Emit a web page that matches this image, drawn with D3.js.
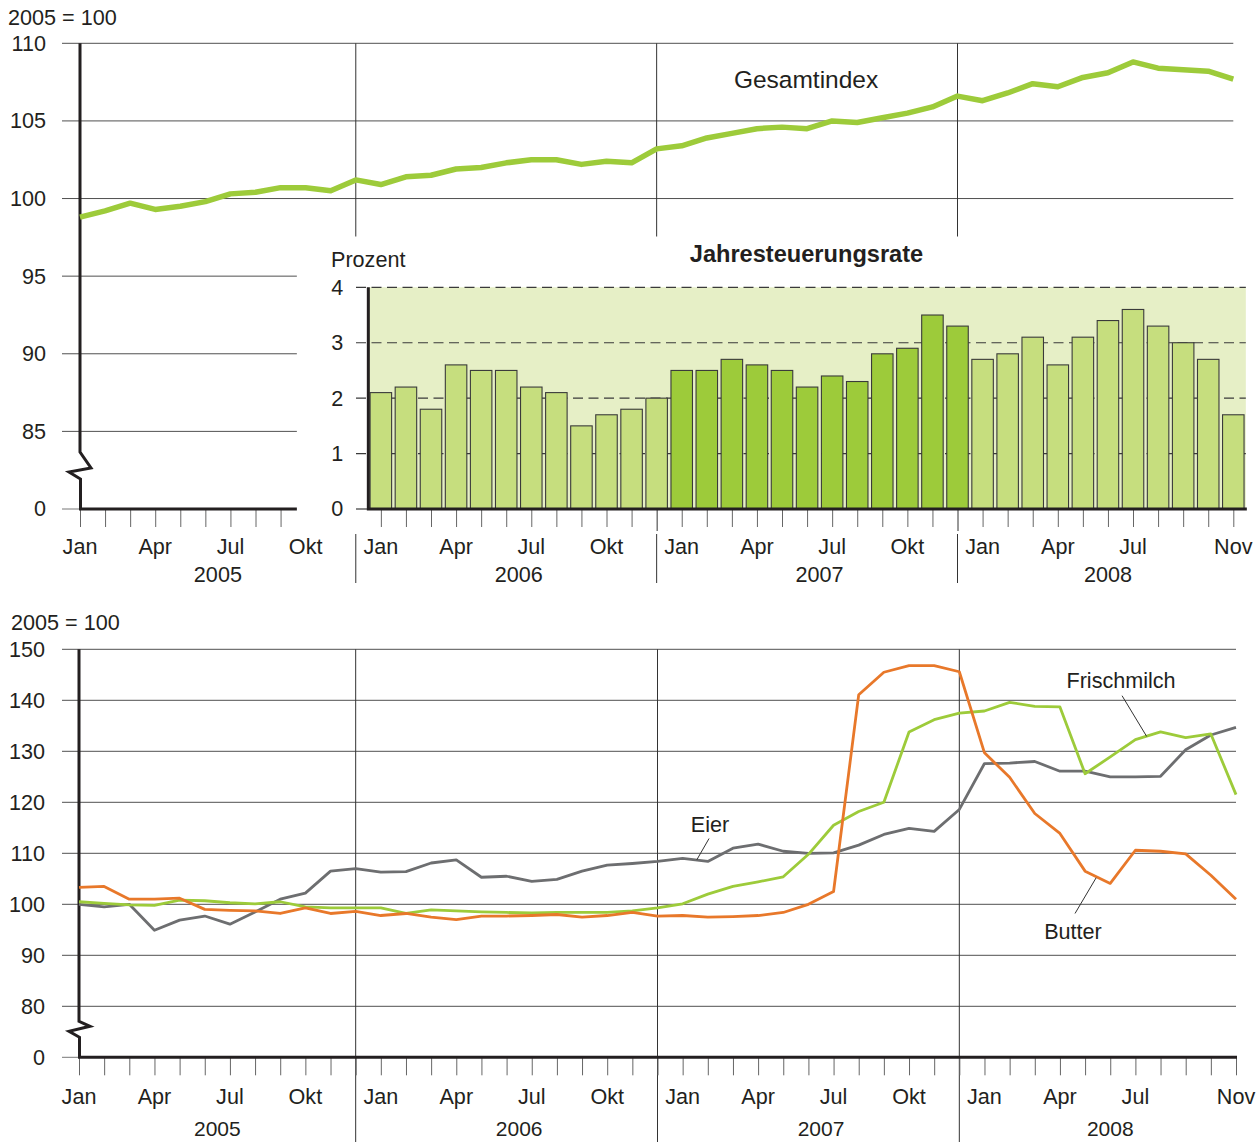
<!DOCTYPE html>
<html><head><meta charset="utf-8">
<script src="https://cdn.jsdelivr.net/npm/d3@7"></script>
<style>
body{margin:0;background:#fff;}
svg{display:block;font-family:"Liberation Sans",Arial,Helvetica,sans-serif;}
</style></head><body>
<svg id="chart" width="1259" height="1142"></svg>
<script>
// ---------------- DATA ----------------
const years = [2005, 2006, 2007, 2008];
const monthNames = ["Jan","Feb","Mär","Apr","Mai","Jun","Jul","Aug","Sep","Okt","Nov","Dez"];
const lastMonth2008 = "Nov";
// month categories Jan 2005 .. Nov 2008
const months = [];
years.forEach(y => monthNames.forEach((m, i) => {
  if (y === 2008 && i > monthNames.indexOf(lastMonth2008)) return;
  months.push(y + "-" + m);
}));

const labelledMonths = ["2005-Jan","2005-Apr","2005-Jul","2005-Okt",
                        "2006-Jan","2006-Apr","2006-Jul","2006-Okt",
                        "2007-Jan","2007-Apr","2007-Jul","2007-Okt",
                        "2008-Jan","2008-Apr","2008-Jul","2008-Nov"];
const yearSeparators = ["2005-Dez","2006-Dez","2007-Dez"];

// Gesamtindex (2005 = 100), Jan 2005 - Nov 2008
const gesamtindex = [
  98.8, 99.2, 99.7, 99.3, 99.5, 99.8, 100.3, 100.4, 100.7, 100.7, 100.5, 101.2,
  100.9, 101.4, 101.5, 101.9, 102.0, 102.3, 102.5, 102.5, 102.2, 102.4, 102.3, 103.2,
  103.4, 103.9, 104.2, 104.5, 104.6, 104.5, 105.0, 104.9, 105.2, 105.5, 105.9, 106.6,
  106.3, 106.8, 107.4, 107.2, 107.8, 108.1, 108.8, 108.4, 108.3, 108.2, 107.7
];
// Jahresteuerungsrate (Prozent), Jan 2006 - Nov 2008
const rateStart = "2006-Jan";
const jahresteuerungsrate = [
  2.1, 2.2, 1.8, 2.6, 2.5, 2.5, 2.2, 2.1, 1.5, 1.7, 1.8, 2.0,
  2.5, 2.5, 2.7, 2.6, 2.5, 2.2, 2.4, 2.3, 2.8, 2.9, 3.5, 3.3,
  2.7, 2.8, 3.1, 2.6, 3.1, 3.4, 3.6, 3.3, 3.0, 2.7, 1.7
];
const highlightYear = 2007;

const eier = [
  100.0, 99.5, 100.0, 94.9, 96.9, 97.7, 96.1, 98.5, 101.0, 102.2, 106.5, 107.0,
  106.3, 106.4, 108.1, 108.7, 105.3, 105.5, 104.5, 104.9, 106.5, 107.7, 108.0, 108.4,
  109.0, 108.4, 111.0, 111.8, 110.4, 110.0, 110.1, 111.6, 113.7, 114.9, 114.3, 118.6,
  127.6, 127.7, 128.0, 126.1, 126.1, 125.0, 125.0, 125.1, 130.3, 133.2, 134.7
];
const frischmilch = [
  100.5, 100.2, 99.9, 99.8, 100.8, 100.7, 100.3, 100.1, 100.5, 99.5, 99.3, 99.3,
  99.3, 98.2, 98.9, 98.7, 98.5, 98.4, 98.3, 98.4, 98.4, 98.4, 98.7, 99.3,
  100.1, 102.0, 103.5, 104.4, 105.4, 109.8, 115.5, 118.2, 120.0, 133.8, 136.2, 137.5,
  137.9, 139.6, 138.8, 138.7, 125.6, 128.9, 132.3, 133.8, 132.7, 133.4, 121.5
];
const butter = [
  103.3, 103.5, 101.0, 101.0, 101.2, 99.0, 98.8, 98.7, 98.2, 99.3, 98.2, 98.6,
  97.8, 98.2, 97.5, 97.0, 97.7, 97.7, 97.8, 98.0, 97.5, 97.8, 98.4, 97.7,
  97.8, 97.5, 97.6, 97.8, 98.4, 100.0, 102.5, 141.1, 145.5, 146.8, 146.8, 145.6,
  129.7, 124.9, 117.8, 113.9, 106.5, 104.1, 110.6, 110.4, 109.9, 105.7, 101.0
];

const topTicks = [0, 85, 90, 95, 100, 105, 110];
const rateTicks = [0, 1, 2, 3, 4];
const bottomTicks = [0, 80, 90, 100, 110, 120, 130, 140, 150];

// ---------------- SETUP ----------------
const svg = d3.select("#chart");
const TXT = "#231f20", GRID = "#505050", TICK = "#666";
const GREEN = "#9dcb3a", LIGHT = "#c6de7e", BG = "#e6efc6", GRAY = "#6d6e70", ORANGE = "#e8782a";
const F = 21.6;
const idx = k => months.indexOf(k);
const N = months.length - 1;

function hline(g, x1, x2, y, color, w, dash) {
  const l = g.append("line").attr("x1", x1).attr("x2", x2).attr("y1", y).attr("y2", y)
    .attr("stroke", color).attr("stroke-width", w || 1);
  if (dash) l.attr("stroke-dasharray", dash);
  return l;
}
function vline(g, x, y1, y2, color, w) {
  return g.append("line").attr("x1", x).attr("x2", x).attr("y1", y1).attr("y2", y2)
    .attr("stroke", color).attr("stroke-width", w || 1);
}
function text(g, x, y, s, opt) {
  opt = opt || {};
  return g.append("text").attr("x", x).attr("y", y).attr("dy", "0.35em")
    .attr("text-anchor", opt.anchor || "middle").attr("font-size", opt.size || F)
    .attr("font-weight", opt.weight || "normal").attr("fill", TXT).text(s);
}
function styleAxis(g) {
  g.select(".domain").remove();
  g.selectAll("text").attr("fill", TXT).attr("font-size", F).attr("font-family", null);
  g.selectAll(".tick line").attr("stroke", TICK);
}

// ================= TOP CHART =================
const xTop = d3.scaleLinear().domain([0, N]).range([80, 1233.3]);
const yTop = d3.scaleLinear().domain([0, 80, 110]).range([509, 509, 43.3]);
const gT = svg.append("g");
const leftPanelEnd = xTop(8.65);

text(gT, 8, 17, "2005 = 100", {anchor: "start"});

[100, 105, 110].forEach(v => hline(gT, 62, xTop(N), yTop(v), GRID));
[85, 90, 95].forEach(v => hline(gT, 62, leftPanelEnd, yTop(v), GRID));
hline(gT, 62, 80, yTop(0), "#777");

yearSeparators.forEach(k => {
  vline(gT, xTop(idx(k)), yTop(110), 236.5, "#333");
  vline(gT, xTop(idx(k)), 534, 583, "#333");
});

// y labels
const axT = gT.append("g").attr("transform", "translate(80,0)")
  .call(d3.axisLeft(yTop).tickValues(topTicks).tickSize(0).tickPadding(34).tickFormat(d3.format("d")));
styleAxis(axT);

// x ticks (left panel)
const axTx = gT.append("g").attr("transform", `translate(0,${yTop(0)})`)
  .call(d3.axisBottom(xTop).tickValues(d3.range(0, 9)).tickSize(18).tickFormat(""));
styleAxis(axTx);

// Y axis with break
const b0 = yTop(0);
gT.append("path").attr("fill", "none").attr("stroke", TXT).attr("stroke-width", 3)
  .attr("stroke-linejoin", "miter")
  .attr("d", `M80,${yTop(110)} V${b0 - 57} L91,${b0 - 41} L69,${b0 - 37} L80.5,${b0 - 30} V${b0} H${leftPanelEnd}`);

// ---- Bar chart (Jahresteuerungsrate) ----
const yBar = d3.scaleLinear().domain([0, 4]).range([509, 287.3]);
const r0 = idx(rateStart);
const barL = xTop(r0 - 0.5), barR = xTop(N + 0.5);
gT.append("rect").attr("x", barL).attr("y", yBar(4)).attr("width", barR - barL)
  .attr("height", yBar(0) - yBar(4)).attr("fill", BG);
[1, 2, 3, 4].forEach(v => hline(gT, 356, barR, yBar(v), "#3a3a3a", 1.2, "10,5.5"));
hline(gT, 356, barL, yBar(0), "#3a3a3a", 1.2);

const bw = 21.5;
gT.append("g").selectAll("rect").data(jahresteuerungsrate).join("rect")
  .attr("x", (d, i) => xTop(r0 + i) - bw / 2)
  .attr("y", d => yBar(d))
  .attr("width", bw)
  .attr("height", d => yBar(0) - yBar(d))
  .attr("fill", (d, i) => months[r0 + i].startsWith(String(highlightYear)) ? GREEN : LIGHT)
  .attr("stroke", "#3a3a3a").attr("stroke-width", 1.1);

const axB = gT.append("g").attr("transform", `translate(${barL},0)`)
  .call(d3.axisLeft(yBar).tickValues(rateTicks).tickSize(0).tickPadding(25).tickFormat(d3.format("d")));
styleAxis(axB);

const axBx = gT.append("g").attr("transform", `translate(0,${yBar(0)})`)
  .call(d3.axisBottom(xTop).tickValues(d3.range(r0, N + 1)).tickSize(18).tickFormat(""));
styleAxis(axBx);
axBx.selectAll(".tick line").filter(d => yearSeparators.includes(months[d])).attr("y2", 22).attr("stroke", "#333");

gT.append("path").attr("fill", "none").attr("stroke", TXT).attr("stroke-width", 3)
  .attr("d", `M${barL},${yBar(4)} V${yBar(0)} H${barR + 1}`);

text(gT, 331, 259, "Prozent", {anchor: "start"});
text(gT, 806.5, 254, "Jahresteuerungsrate", {weight: "bold", size: 23.6});

// Gesamtindex line
gT.append("path").datum(gesamtindex)
  .attr("fill", "none").attr("stroke", GREEN).attr("stroke-width", 5.5)
  .attr("stroke-linejoin", "round")
  .attr("d", d3.line().x((d, i) => xTop(i)).y(d => yTop(d)));
text(gT, xTop(28.96), yTop(107.7), "Gesamtindex", {size: 24.5});

// month / year labels
labelledMonths.forEach(k => {
  const [y, m] = k.split("-");
  text(gT, xTop(idx(k)), 546, m);
});
years.forEach(y => {
  const ids = months.map((k, i) => k.startsWith(y) ? i : -1).filter(i => i >= 0);
  text(gT, xTop((ids[0] + ids[ids.length - 1]) / 2), 574, String(y));
});

// ================= BOTTOM CHART =================
const xBot = d3.scaleLinear().domain([0, N]).range([79, 1236]);
const yBot = d3.scaleLinear().domain([0, 70, 150]).range([1057.3, 1057.3, 649.3]);
const gB = svg.append("g");

text(gB, 11, 622, "2005 = 100", {anchor: "start"});
bottomTicks.filter(v => v > 0).forEach(v => hline(gB, 62, xBot(N), yBot(v), GRID));
hline(gB, 62, 79, yBot(0), "#777");

yearSeparators.forEach(k => vline(gB, xBot(idx(k)), yBot(150), 1142, "#333"));

const axL = gB.append("g").attr("transform", "translate(79,0)")
  .call(d3.axisLeft(yBot).tickValues(bottomTicks).tickSize(0).tickPadding(34).tickFormat(d3.format("d")));
styleAxis(axL);

const axX = gB.append("g").attr("transform", `translate(0,${yBot(0)})`)
  .call(d3.axisBottom(xBot).tickValues(d3.range(0, N + 1)).tickSize(18).tickFormat(""));
styleAxis(axX);

const c0 = yBot(0);
gB.append("path").attr("fill", "none").attr("stroke", TXT).attr("stroke-width", 3)
  .attr("d", `M79,${yBot(150)} V${c0 - 36} L90,${c0 - 31} L69,${c0 - 26} L79.5,${c0 - 20} V${c0} H${xBot(N) + 1}`);

const lineB = d3.line().x((d, i) => xBot(i)).y(d => yBot(d)).curve(d3.curveLinear);
[[eier, GRAY], [frischmilch, GREEN], [butter, ORANGE]].forEach(([s, c]) => {
  gB.append("path").datum(s).attr("fill", "none").attr("stroke", c)
    .attr("stroke-width", 2.8).attr("stroke-linejoin", "round").attr("d", lineB);
});

// annotations (positions in data space)
const annotations = [
  {label: "Eier", at: [25.09, 115.6], from: [25.05, 112.9], to: [24.56, 108.7]},
  {label: "Frischmilch", at: [41.43, 143.8], from: [41.47, 140.9], to: [42.45, 132.9]},
  {label: "Butter", at: [39.52, 94.7], from: [40.44, 105.2], to: [39.6, 98.2]}
];
annotations.forEach(a => {
  gB.append("line").attr("x1", xBot(a.from[0])).attr("y1", yBot(a.from[1]))
    .attr("x2", xBot(a.to[0])).attr("y2", yBot(a.to[1])).attr("stroke", "#333").attr("stroke-width", 1);
  text(gB, xBot(a.at[0]), yBot(a.at[1]), a.label);
});

labelledMonths.forEach(k => {
  const m = k.split("-")[1];
  text(gB, xBot(idx(k)), 1096, m);
});
years.forEach(y => {
  const ids = months.map((k, i) => k.startsWith(y) ? i : -1).filter(i => i >= 0);
  text(gB, xBot((ids[0] + ids[ids.length - 1]) / 2), 1128.5, String(y), {size: 21});
});
</script>
</body></html>
